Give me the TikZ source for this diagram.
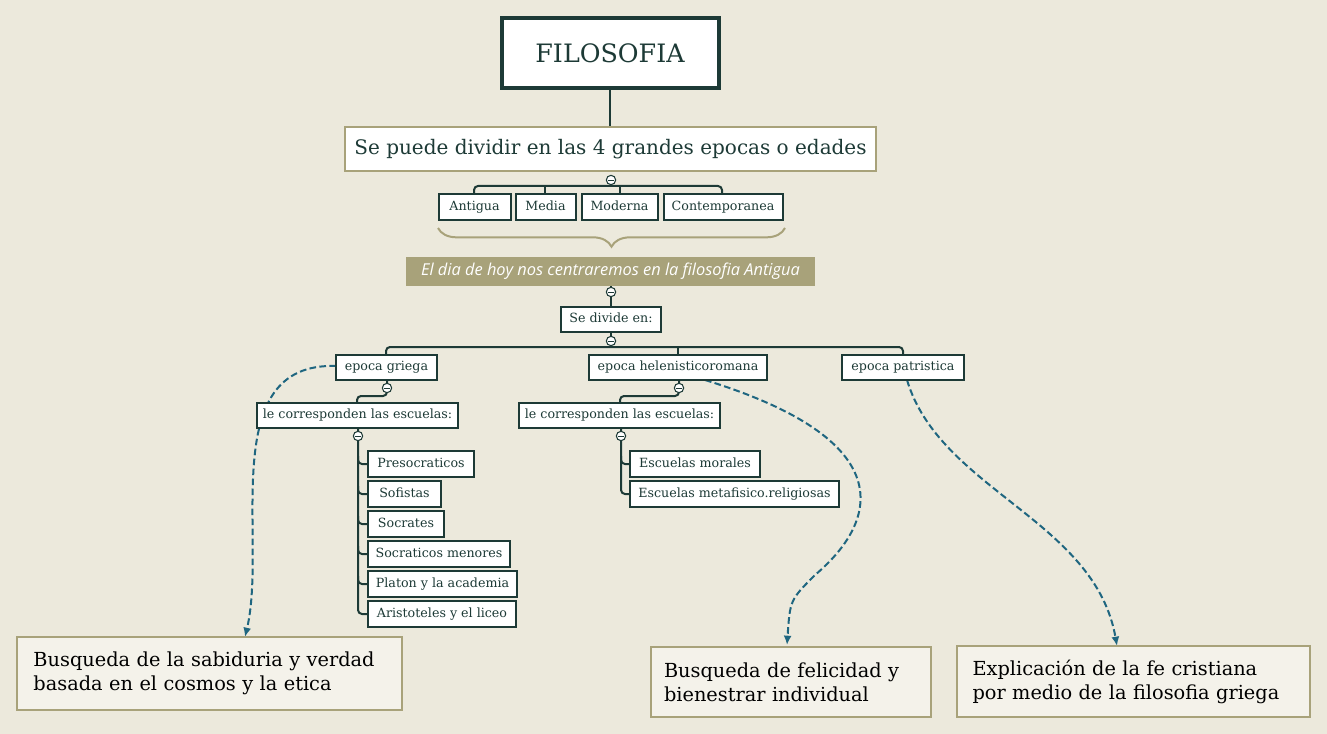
\documentclass[tikz,border=0pt]{standalone}
\usepackage{fontspec}
\setmainfont{DejaVu Serif}
\newfontfamily\itfont{Open Sans}
\usetikzlibrary{decorations.pathreplacing,arrows.meta}
\definecolor{bg}{HTML}{ECE9DC}
\definecolor{dk}{HTML}{1D3A36}
\definecolor{ol}{HTML}{A8A27A}
\definecolor{tl}{HTML}{1F6680}
\begin{document}
\begin{tikzpicture}[x=0.75pt,y=-0.75pt,
 sb/.style={draw=dk,line width=1.5pt,fill=white,inner sep=0pt,font=\fontsize{9.5}{11}\selectfont,text=dk,text height=7pt,text depth=2pt},
 ob/.style={draw=ol,line width=2.2pt,fill=bg!60!white,inner sep=0pt,font=\fontsize{14.5}{18}\selectfont,text=black,align=left},
 ln/.style={dk,line width=1.5pt,rounded corners=3pt},
 cc/.style={circle,draw=dk,fill=white,line width=0.8pt,minimum size=7pt,inner sep=0pt,path picture={\draw[dk,line width=0.6pt] ([xshift=-2pt]path picture bounding box.center)--([xshift=2pt]path picture bounding box.center);}},
 da/.style={tl,dash pattern=on 5pt off 2.5pt,line width=1.5pt,-{Latex[length=7pt,width=6pt]}}]
\fill[bg] (0,0) rectangle (1327,734);
\useasboundingbox (0,0) rectangle (1327,734);
% connectors
\draw[ln] (610,90)--(610,126);
\draw[ln] (474,194)--(474,186)--(722,186)--(722,194);
\draw[ln] (545,186)--(545,194); \draw[ln] (620,186)--(620,194);
\draw[ln] (611,286)--(611,307);
\draw[ln] (386,355)--(386,347)--(903,347)--(903,355);
\draw[ln] (678,347)--(678,355); \draw[ln] (611,332)--(611,347);
\draw[ln] (387,380)--(387,396)--(357,396)--(357,403);
\draw[ln] (679,380)--(679,396)--(620,396)--(620,403);
\draw[ln] (358,428)--(358,614)--(367,614);
\foreach \y in {464,494,524,554,584} \draw[ln] (358,\y-8)--(358,\y)--(367,\y);
\draw[ln] (621,428)--(621,494)--(629,494);
\draw[ln] (621,456)--(621,464)--(629,464);
% dashed
\draw[da] (336,366) .. controls (215,362) and (268,540) .. (245,637);
\draw[da] (705,380) .. controls (900,440) and (880,520) .. (815,575) .. controls (790,600) .. (787,645);
\draw[da] (907,380) .. controls (940,490) and (1095,520) .. (1117,646);
% nodes
\node[draw=dk,line width=3pt,fill=white,minimum width=217*0.75pt,minimum height=70*0.75pt,font=\fontsize{19}{22}\selectfont,text=dk] (fil) at (610,53.5) {FILOSOFIA};
\node[draw=ol,line width=2.2pt,fill=white,minimum width=531*0.75pt,minimum height=44*0.75pt,font=\fontsize{15}{18}\selectfont,text=dk,text height=11pt,text depth=3pt] (sp) at (610.5,149) {Se puede dividir en las 4 grandes epocas o edades};
\node[sb,minimum width=72*0.75pt,minimum height=26*0.75pt] (a1) at (474.5,207.5) {Antigua};
\node[sb,minimum width=60*0.75pt,minimum height=26*0.75pt] (a2) at (545.5,207.5) {Media};
\node[sb,minimum width=76*0.75pt,minimum height=26*0.75pt] (a3) at (619.5,207.5) {Moderna};
\node[sb,minimum width=119*0.75pt,minimum height=26*0.75pt] (a4) at (723,207.5) {Contemporanea};
\draw[decorate,decoration={brace,mirror,amplitude=14pt},ol,line width=1.5pt] (438,228)--(785,228);
\node[fill=ol,minimum width=409*0.75pt,minimum height=29*0.75pt,inner sep=0pt,text=white,font=\itfont\itshape\fontsize{12.3}{14}\selectfont,text height=9pt,text depth=2.5pt] (ban) at (610.5,271.5) {El dia de hoy nos centraremos en la filosofia Antigua};
\node[sb,minimum width=100*0.75pt,minimum height=25*0.75pt] (sd) at (611,319.5) {Se divide en:};
\node[sb,minimum width=101*0.75pt,minimum height=25*0.75pt] (g) at (386.5,367.5) {epoca griega};
\node[sb,minimum width=178*0.75pt,minimum height=25*0.75pt] (h) at (678,367.5) {epoca helenisticoromana};
\node[sb,minimum width=122*0.75pt,minimum height=25*0.75pt] (p) at (903,367.5) {epoca patristica};
\node[sb,minimum width=201*0.75pt,minimum height=25*0.75pt] (g1) at (357.5,415.5) {le corresponden las escuelas:};
\node[sb,minimum width=201*0.75pt,minimum height=25*0.75pt] (h1) at (619.5,415.5) {le corresponden las escuelas:};
\foreach \n/\t/\w [count=\i] in {p1/Presocraticos/106,p2/Sofistas/73,p3/Socrates/76,p4/Socraticos menores/142,p5/Platon y la academia/149,p6/Aristoteles y el liceo/148}
 \node[sb,anchor=west,minimum width=\w*0.75pt,minimum height=26*0.75pt] (\n) at (367,434+30*\i) {\t};
\node[sb,anchor=west,minimum width=130*0.75pt,minimum height=26*0.75pt] (e1) at (629,464) {Escuelas morales};
\node[sb,anchor=west,minimum width=209*0.75pt,minimum height=26*0.75pt] (e2) at (629,494) {Escuelas metafisico.religiosas};
\foreach \x/\y in {611/180,611/292,611/341,387/388,358/436,679/388,621/436} \node[cc] at (\x,\y) {};
\node[ob,minimum width=385*0.75pt,minimum height=73*0.75pt,text width=352*0.75pt] (b1) at (209.5,673.5) {Busqueda de la sabiduria y verdad basada en el cosmos y la etica};
\node[ob,minimum width=280*0.75pt,minimum height=70*0.75pt,text width=254*0.75pt] (b2) at (791,682) {Busqueda de felicidad y bienestrar individual};
\node[ob,minimum width=353*0.75pt,minimum height=71*0.75pt,text width=322*0.75pt] (b3) at (1133.5,681.5) {Explicación de la fe cristiana por medio de la filosofia griega};
\end{tikzpicture}
\end{document}
